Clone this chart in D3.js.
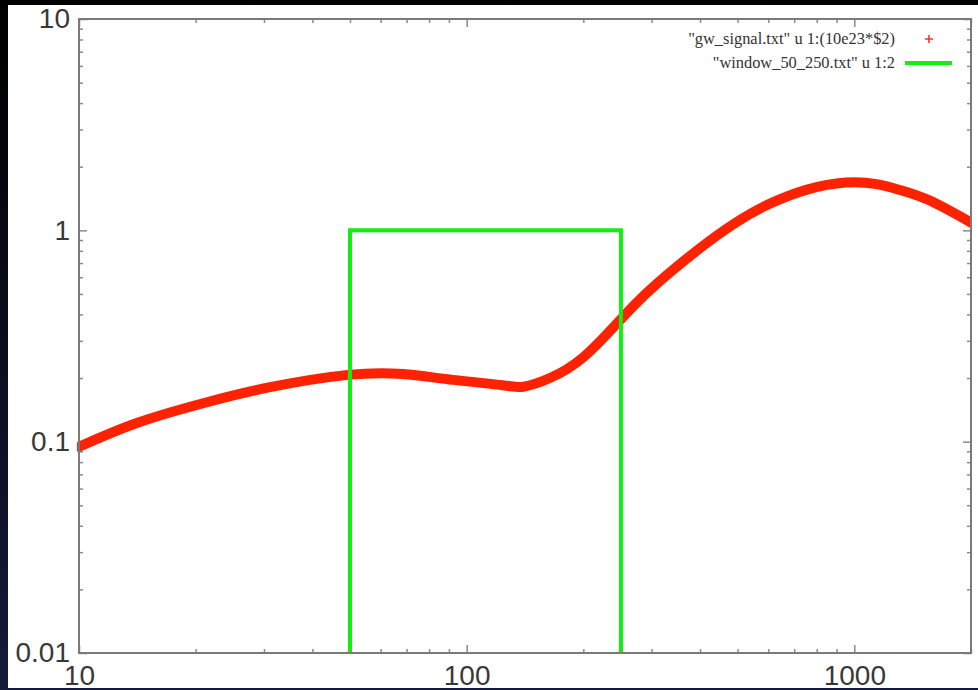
<!DOCTYPE html>
<html>
<head>
<meta charset="utf-8">
<script src="https://cdn.jsdelivr.net/npm/d3@7"></script>
<style>
    html, body { margin: 0; padding: 0; background: #05060f; }
    svg { display: block; }
    .tick text { font-family: "Liberation Sans", Arial, sans-serif; fill: #383838; }
    .legend text { font-family: "Liberation Serif", "Times New Roman", serif; fill: #333; }
</style>
</head>
<body>
<script>
// frequency (Hz) and scaled signal amplitude
var gwFreq = [10, 14.1, 20.9, 31.1, 49.4, 68.5, 92.2, 124, 140, 164, 200, 246, 297, 400, 595, 950, 1312, 1596, 1990, 2050];
var gwAmp = [0.0946, 0.1226, 0.152, 0.181, 0.207, 0.209, 0.196, 0.185, 0.182, 0.200, 0.251, 0.368, 0.522, 0.824, 1.317, 1.685, 1.552, 1.361, 1.094, 1.06];

// window function 50..250
var winFreq = [50, 50, 250, 250];
var winVal = [0.01, 1, 1, 0.01];

var xTickLabels = [10, 100, 1000];
var yTickLabels = [0.01, 0.1, 1, 10];
var legendNames = ['"gw_signal.txt" u 1:(10e23*$2)', '"window_50_250.txt" u 1:2'];

var W = 978, H = 690;
var mLeft = 79, mRight = 7, mTop = 19, mBottom = 37;

function display() {

    var svg = d3.select("body").append("svg")
        .attr("width", W)
        .attr("height", H);

    var defs = svg.append("defs");
    var grad = defs.append("linearGradient")
        .attr("id", "bg").attr("x1", 0).attr("y1", 0).attr("x2", 0).attr("y2", 1);
    grad.append("stop").attr("offset", "0%").attr("stop-color", "#000000");
    grad.append("stop").attr("offset", "100%").attr("stop-color", "#141a3a");

    svg.append("rect").attr("width", W).attr("height", H).attr("fill", "url(#bg)");
    // white slide image
    svg.append("rect")
        .attr("x", 8).attr("y", 5)
        .attr("width", W - 8).attr("height", 683)
        .attr("fill", "#ffffff");

    var x = d3.scaleLog().domain([10, 2000]).range([mLeft, W - mRight]);
    var y = d3.scaleLog().domain([0.01, 10]).range([H - mBottom, mTop]);

    var allX = x.ticks().filter(function(d) { return d <= 2000; });
    var majorX = allX.filter(function(d) { return Math.abs(Math.log10(d) % 1) < 1e-9; });
    var minorX = allX.filter(function(d) { return majorX.indexOf(d) < 0; });
    var allY = y.ticks();
    var majorY = allY.filter(function(d) { return Math.abs(Math.log10(d) - Math.round(Math.log10(d))) < 1e-9; });
    var minorY = allY.filter(function(d) { return majorY.indexOf(d) < 0; });

    var axes = svg.append("g").attr("class", "axes");

    function tickAxis(gen, vals, size, tr) {
        var g = axes.append("g")
            .attr("transform", tr)
            .call(gen.tickValues(vals).tickSize(-size).tickFormat(""));
        g.select(".domain").remove();
        g.selectAll(".tick line").attr("stroke", "#8a8a8a").attr("stroke-width", 1.5);
    }

    var bottomY = H - mBottom, rightX = W - mRight;
    tickAxis(d3.axisBottom(x), majorX, 8, "translate(0," + bottomY + ")");
    tickAxis(d3.axisBottom(x), minorX, 4, "translate(0," + bottomY + ")");
    tickAxis(d3.axisTop(x), majorX, 8, "translate(0," + mTop + ")");
    tickAxis(d3.axisTop(x), minorX, 4, "translate(0," + mTop + ")");
    tickAxis(d3.axisLeft(y), majorY, 8, "translate(" + mLeft + ",0)");
    tickAxis(d3.axisLeft(y), minorY, 4, "translate(" + mLeft + ",0)");
    tickAxis(d3.axisRight(y), majorY, 8, "translate(" + rightX + ",0)");
    tickAxis(d3.axisRight(y), minorY, 4, "translate(" + rightX + ",0)");

    // tick labels
    var xl = axes.append("g")
        .attr("transform", "translate(0," + bottomY + ")")
        .call(d3.axisBottom(x).tickValues(xTickLabels).tickSize(0).tickPadding(12).tickFormat(d3.format("d")));
    xl.select(".domain").remove();
    xl.selectAll("text").attr("font-size", 28);

    var yl = axes.append("g")
        .attr("transform", "translate(" + mLeft + ",0)")
        .call(d3.axisLeft(y).tickValues(yTickLabels).tickSize(0).tickPadding(9).tickFormat(function(d) { return String(d); }));
    yl.select(".domain").remove();
    yl.selectAll("text").attr("font-size", 28);

    defs.append("clipPath").attr("id", "clip")
        .append("rect")
        .attr("x", mLeft - 2).attr("y", mTop)
        .attr("width", rightX - mLeft + 2).attr("height", bottomY - mTop);

    var plot = svg.append("g").attr("clip-path", "url(#clip)");

    var sig = gwFreq.map(function(f, i) { return [f, gwAmp[i]]; });
    var line = d3.line()
        .x(function(d) { return x(d[0]); })
        .y(function(d) { return y(d[1]); })
        .curve(d3.curveNatural);

    plot.append("path")
        .datum(sig)
        .attr("d", line)
        .attr("fill", "none")
        .attr("stroke", "#ff2200")
        .attr("stroke-width", 10)
        .attr("stroke-linecap", "round");

    var win = winFreq.map(function(f, i) { return [f, winVal[i]]; });
    plot.append("path")
        .datum(win)
        .attr("d", d3.line().x(function(d) { return x(d[0]); }).y(function(d) { return y(d[1]); }))
        .attr("fill", "none")
        .attr("stroke", "#11ee11")
        .attr("stroke-width", 4);

    // frame
    svg.append("rect")
        .attr("x", mLeft).attr("y", mTop)
        .attr("width", rightX - mLeft).attr("height", bottomY - mTop)
        .attr("fill", "none")
        .attr("stroke", "#7a7a7a")
        .attr("stroke-width", 2);

    // legend
    var legend = svg.append("g").attr("class", "legend");
    legend.selectAll("text")
        .data(legendNames)
        .enter().append("text")
        .text(function(d) { return d; })
        .attr("x", 895)
        .attr("y", function(d, i) { return 44 + i * 24; })
        .attr("text-anchor", "end")
        .attr("font-size", 16.4);

    var px = 929, py = 39;
    legend.append("path")
        .attr("d", "M" + (px - 4) + "," + py + "h8M" + px + "," + (py - 4) + "v8")
        .attr("stroke", "#ff3322")
        .attr("stroke-width", 1.6);
    legend.append("line")
        .attr("x1", 905).attr("x2", 952)
        .attr("y1", 63).attr("y2", 63)
        .attr("stroke", "#11ee11")
        .attr("stroke-width", 4);
}

document.addEventListener("DOMContentLoaded", function() {
    display();
});
</script>
</body>
</html>
